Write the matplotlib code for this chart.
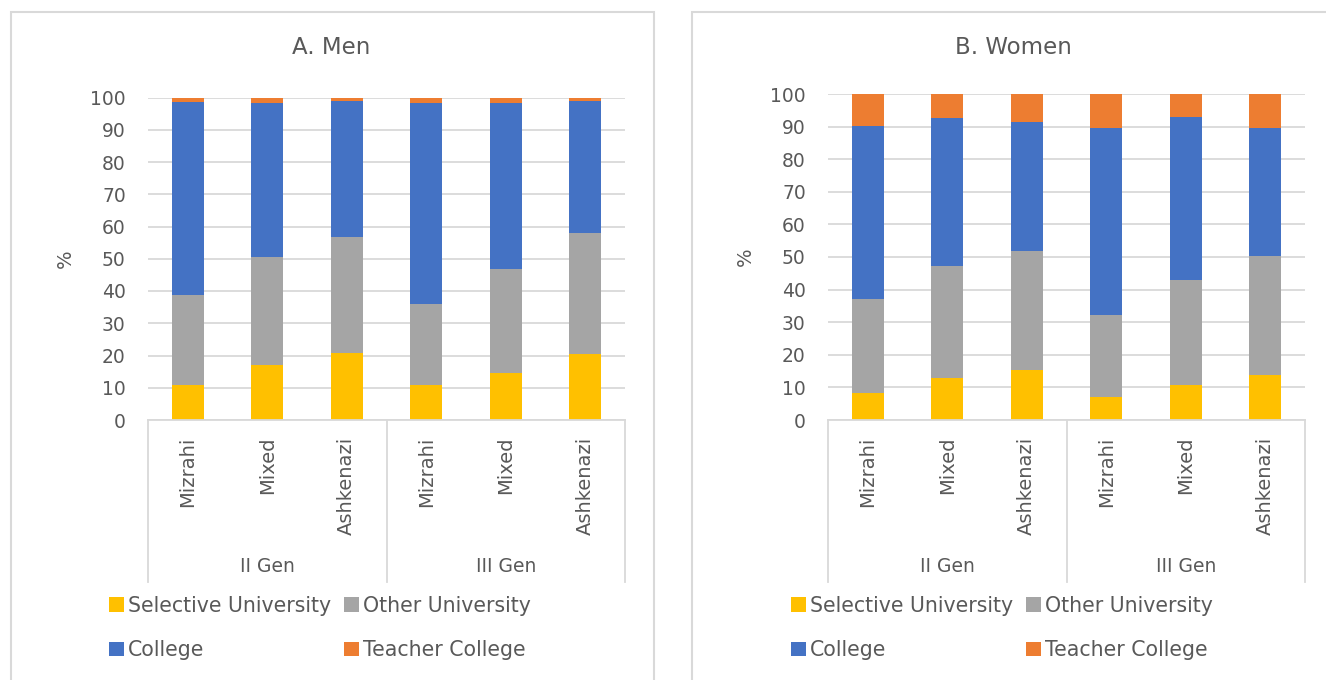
import matplotlib.pyplot as plt
from matplotlib.patches import Rectangle
import numpy as np

# 数据 ===================================
groups = ['Mizrahi', 'Mixed', 'Ashkenazi', 'Mizrahi', 'Mixed', 'Ashkenazi']
gens = ['II Gen', 'III Gen']
series = ['Selective University', 'Other University', 'College', 'Teacher College']
colors = ['#FFC000', '#A5A5A5', '#4472C4', '#ED7D31']

men_selective = [10.7, 17.1, 20.7, 10.7, 14.7, 20.4]
men_other = [28.2, 33.4, 35.9, 25.4, 32.1, 37.5]
men_college = [59.6, 47.9, 42.2, 62.3, 51.5, 40.9]
men_teacher = [1.5, 1.6, 1.2, 1.6, 1.7, 1.2]

women_selective = [8.3, 12.9, 15.4, 7.2, 10.7, 13.8]
women_other = [28.9, 34.4, 36.5, 25.0, 32.3, 36.6]
women_college = [52.9, 45.4, 39.4, 57.3, 49.8, 39.1]
women_teacher = [9.9, 7.3, 8.7, 10.5, 7.2, 10.5]

W, H = 1326, 680
txt = '#595959'
grid = '#D9D9D9'
plt.rcParams['font.family'] = ['DejaVu Sans']

fig = plt.figure(figsize=(W / 100, H / 100), dpi=100)

# 面板边框
fig.patches.append(Rectangle((11 / W, -0.1), (654 - 11) / W, 1.1 - 12 / H,
                             transform=fig.transFigure, fill=False, edgecolor=grid, lw=1.5))
fig.patches.append(Rectangle((692 / W, -0.1), 0.5, 1.1 - 12 / H,
                             transform=fig.transFigure, fill=False, edgecolor=grid, lw=1.5))


def panel(x0, x1, y0, y100, title, title_x, data, legend_x):
    ax = fig.add_axes([x0 / W, 1 - y0 / H, (x1 - x0) / W, (y0 - y100) / H])
    x = np.arange(len(groups))
    bottom = np.zeros(len(groups))
    handles = []
    for vals, c, name in zip(data, colors, series):
        b = ax.bar(x, vals, 0.4, bottom=bottom, color=c, label=name, lw=0)
        handles.append(b)
        bottom += np.array(vals)
    ax.set_xlim(-0.5, len(groups) - 0.5)
    ax.set_ylim(0, 100)
    ax.set_yticks(range(0, 101, 10))
    ax.tick_params(axis='y', length=0, pad=16, labelsize=13.5, labelcolor=txt)
    ax.set_xticks([])
    ax.grid(axis='y', color=grid, lw=1.3)
    ax.set_axisbelow(True)
    for s in ['top', 'right', 'left']:
        ax.spines[s].set_visible(False)
    ax.spines['bottom'].set_color(grid)
    ax.spines['bottom'].set_linewidth(1.3)
    ax.set_ylabel('%', fontsize=14, color=txt)
    ax.yaxis.set_label_coords(-73 / (x1 - x0), 0.5)

    # 分类坐标轴（两层）
    h = y0 - y100
    fy = lambda py: (y0 - py) / h
    for xv in [-0.5, 2.5, 5.5]:
        ax.plot([xv, xv], [0, fy(582)], color=grid, lw=1.3, clip_on=False,
                transform=ax.get_xaxis_transform())
    for i, g in enumerate(groups):
        ax.text(i, fy(437), g, rotation=90, ha='center', va='top', fontsize=14,
                color=txt, transform=ax.get_xaxis_transform())
    for j, g in enumerate(gens):
        ax.text(3 * j + 1, fy(566), g, ha='center', va='center', fontsize=13.5,
                color=txt, transform=ax.get_xaxis_transform())

    fig.text(title_x / W, 1 - 48 / H, title, ha='center', va='center', fontsize=16.5, color=txt)

    order = [0, 2, 1, 3]
    leg = fig.legend([handles[i] for i in order], [series[i] for i in order],
                     ncol=2, loc='center', bbox_to_anchor=(legend_x / W, 1 - 628 / H),
                     frameon=False, fontsize=14.8, handlelength=0.72, handleheight=0.72,
                     handletextpad=0.2, columnspacing=0.6, labelspacing=1.2, borderpad=0)
    for t in leg.get_texts():
        t.set_color(txt)
    return ax


panel(148, 625, 420, 97.5, 'A. Men', 331,
      [men_selective, men_other, men_college, men_teacher], 320)
panel(828, 1305, 420, 94, 'B. Women', 1013,
      [women_selective, women_other, women_college, women_teacher], 1002)

fig.savefig('out.png', dpi=100)
